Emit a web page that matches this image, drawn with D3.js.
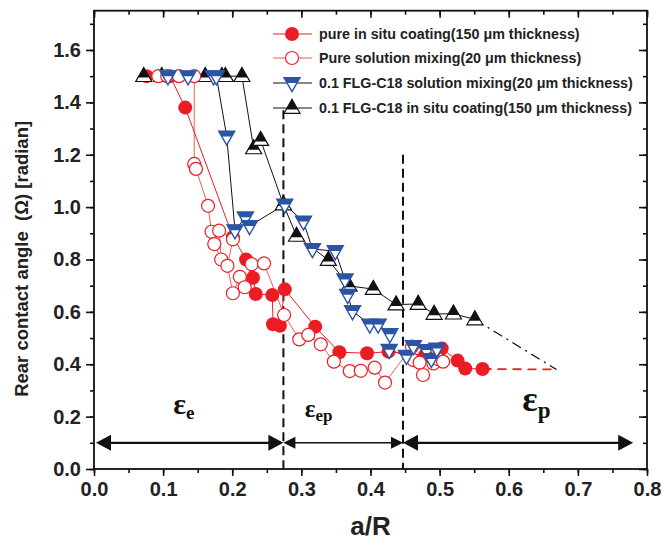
<!DOCTYPE html>
<html><head><meta charset="utf-8">
<script src="https://cdn.jsdelivr.net/npm/d3@7"></script>
<style>body{margin:0;background:#fff}svg{display:block}</style>
</head><body>
<script>
const seriesNames = [
  "pure in situ coating(150 \u03bcm thickness)",
  "Pure solution mixing(20 \u03bcm thickness)",
  "0.1 FLG-C18 solution mixing(20 \u03bcm thickness)",
  "0.1 FLG-C18 in situ coating(150 \u03bcm thickness)"
];
const pureInSitu = [[0.076,1.50],[0.11,1.50],[0.132,1.38],[0.201,0.886],[0.220,0.80],[0.23,0.73],[0.234,0.668],[0.258,0.664],[0.259,0.553],[0.269,0.547],[0.276,0.686],[0.32,0.543],[0.355,0.446],[0.395,0.442],[0.426,0.448],[0.479,0.435],[0.503,0.46],[0.526,0.414],[0.537,0.384],[0.562,0.382]];
const pureInSituExt = [[0.562,0.382],[0.669,0.38]];
const pureSolution = [[0.093,1.50],[0.106,1.50],[0.123,1.50],[0.145,1.50],[0.145,1.165],[0.1475,1.146],[0.165,1.005],[0.170,0.906],[0.174,0.859],[0.184,0.80],[0.181,0.91],[0.201,0.877],[0.193,0.776],[0.201,0.671],[0.211,0.734],[0.218,0.694],[0.228,0.782],[0.246,0.785],[0.275,0.588],[0.297,0.495],[0.31,0.512],[0.328,0.476],[0.347,0.41],[0.37,0.374],[0.386,0.375],[0.406,0.387],[0.421,0.33],[0.46,0.467],[0.462,0.416],[0.471,0.406],[0.476,0.359],[0.491,0.403],[0.498,0.419],[0.505,0.41]];
const flgSolution = [[0.107,1.50],[0.136,1.50],[0.173,1.50],[0.177,1.50],[0.192,1.27],[0.204,0.912],[0.219,0.961],[0.225,0.928],[0.276,1.01],[0.303,0.945],[0.316,0.84],[0.349,0.832],[0.363,0.724],[0.367,0.665],[0.374,0.603],[0.399,0.552],[0.411,0.552],[0.428,0.515],[0.427,0.455],[0.452,0.432],[0.462,0.47],[0.481,0.454],[0.488,0.42],[0.496,0.46]];
const flgInSitu = [[0.072,1.50],[0.098,1.50],[0.161,1.50],[0.185,1.50],[0.19,1.50],[0.214,1.50],[0.231,1.224],[0.241,1.256],[0.274,1.01],[0.293,0.89],[0.339,0.798],[0.369,0.699],[0.404,0.687],[0.437,0.628],[0.469,0.63],[0.492,0.592],[0.52,0.593],[0.551,0.571]];
const flgInSituExt = [[0.551,0.571],[0.669,0.38]];
const xTicks = [0,0.1,0.2,0.3,0.4,0.5,0.6,0.7,0.8];
const yTicks = [0,0.2,0.4,0.6,0.8,1.0,1.2,1.4,1.6];
const regionBounds = [0.0, 0.274, 0.447, 0.78];
const boundaryTops = [1.37, 1.20];
const regionLabels = [["\u03b5","e"],["\u03b5","ep"],["\u03b5","p"]];

const W=662,H=549;
const svg=d3.select("body").append("svg").attr("width",W).attr("height",H);
const L=94,R=647,T=10.7,B=469;
const x=d3.scaleLinear().domain([0,0.8]).range([L,R]);
const y=d3.scaleLinear().domain([0,1.75]).range([B,T]);
const RED="#ec1c24", RED2="#f05a5a", BLUE="#2b54a4";

svg.append("rect").attr("x",L).attr("y",T).attr("width",R-L).attr("height",B-T).attr("fill","none").attr("stroke","#111").attr("stroke-width",1.8);
const fmt=d3.format(".1f");
const xMinor=d3.range(0,0.801,0.05);
const yMinor=d3.range(0,1.751,0.1);
const ax=svg.append("g").attr("transform",`translate(0,${B})`).call(d3.axisBottom(x).tickValues(xTicks).tickFormat(fmt).tickSize(7).tickPadding(6));
const axm=svg.append("g").attr("transform",`translate(0,${B})`).call(d3.axisBottom(x).tickValues(xMinor).tickFormat("").tickSize(4));
const axt=svg.append("g").attr("transform",`translate(0,${T})`).call(d3.axisBottom(x).tickValues(xTicks).tickFormat("").tickSize(7));
const axtm=svg.append("g").attr("transform",`translate(0,${T})`).call(d3.axisBottom(x).tickValues(xMinor).tickFormat("").tickSize(4));
const ay=svg.append("g").attr("transform",`translate(${L},0)`).call(d3.axisLeft(y).tickValues(yTicks).tickFormat(fmt).tickSize(8).tickPadding(5));
const aym=svg.append("g").attr("transform",`translate(${L},0)`).call(d3.axisLeft(y).tickValues(yMinor).tickFormat("").tickSize(4));
const ayr=svg.append("g").attr("transform",`translate(${R},0)`).call(d3.axisLeft(y).tickValues(yTicks).tickFormat("").tickSize(8));
const ayrm=svg.append("g").attr("transform",`translate(${R},0)`).call(d3.axisLeft(y).tickValues(yMinor).tickFormat("").tickSize(4));
[ax,axm,axt,axtm,ay,aym,ayr,ayrm].forEach(g=>{g.select(".domain").remove();g.selectAll("line").attr("stroke","#111").attr("stroke-width",1.6);});
[ax,ay].forEach(g=>g.selectAll("text").attr("font-family","Liberation Sans, Arial, sans-serif").attr("font-weight","bold").attr("font-size",20).attr("fill","#222"));

svg.append("text").attr("x",(L+R)/2).attr("y",535).attr("text-anchor","middle").attr("font-family","Liberation Sans, Arial, sans-serif").attr("font-weight","bold").attr("font-size",26).attr("fill","#222").text("a/R");
svg.append("text").attr("transform",`translate(28,${(T+B)/2+19}) rotate(-90)`).attr("text-anchor","middle").attr("font-family","Liberation Sans, Arial, sans-serif").attr("font-weight","bold").attr("font-size",18.5).attr("fill","#222").text("Rear contact angle \u00a0(\u03a9) [radian]");

regionBounds.slice(1,3).forEach((b,i)=>{
  svg.append("line").attr("x1",x(b)).attr("x2",x(b)).attr("y1",y(boundaryTops[i])).attr("y2",B).attr("stroke","#111").attr("stroke-width",2).attr("stroke-dasharray","9,5");
});

function arrowHead(xTip,yv,dir,len,hw){
  const yy=y(yv);
  svg.append("path").attr("d",`M${xTip},${yy} L${xTip-dir*len},${yy-hw} L${xTip-dir*len},${yy+hw} Z`).attr("fill","#111");
}
const arrowY=0.1;
[[0,1,2.2,15,8],[1,2,1.4,12,6],[2,3,2.2,15,8]].forEach(([a,b,sw,len,hw])=>{
  const x1=Math.max(x(regionBounds[a]),L+2), x2=x(regionBounds[b]);
  svg.append("line").attr("x1",x1+len-2).attr("x2",x2-len+2).attr("y1",y(arrowY)).attr("y2",y(arrowY)).attr("stroke","#111").attr("stroke-width",sw);
  arrowHead(x1,arrowY,-1,len,hw);
  arrowHead(x2,arrowY,1,len,hw);
});
const labelPos=[[0.13,0.21,30,19],[0.325,0.2,25,17],[0.64,0.22,36,23]];
regionLabels.forEach((lab,i)=>{
  const [cx,cy,fs,ss]=labelPos[i];
  const t=svg.append("text").attr("x",x(cx)).attr("y",y(cy)).attr("text-anchor","middle").attr("font-family","Liberation Serif, Times New Roman, serif").attr("font-weight","bold").attr("fill","#111").attr("font-size",fs);
  t.append("tspan").text(lab[0]);
  t.append("tspan").attr("font-size",ss).attr("dy",fs*0.18).text(lab[1]);
});

const line=d3.line().x(d=>x(d[0])).y(d=>y(d[1]));
svg.append("path").datum(pureInSituExt).attr("d",line).attr("fill","none").attr("stroke",RED).attr("stroke-width",1.8).attr("stroke-dasharray","9,6");
svg.append("path").datum(flgInSituExt).attr("d",line).attr("fill","none").attr("stroke","#111").attr("stroke-width",1.3).attr("stroke-dasharray","10,5,2,5");
svg.append("path").datum(flgInSitu).attr("d",line).attr("fill","none").attr("stroke","#111").attr("stroke-width",1);
svg.append("path").datum(flgSolution).attr("d",line).attr("fill","none").attr("stroke","#111").attr("stroke-width",1);
svg.append("path").datum(pureSolution).attr("d",line).attr("fill","none").attr("stroke",RED2).attr("stroke-width",1);
svg.append("path").datum(pureInSitu).attr("d",line).attr("fill","none").attr("stroke",RED).attr("stroke-width",1);

function triUp(g,cx,cy){
  const w=8,h=14, top=cy-h*0.62, bot=cy+h*0.38;
  g.append("path").attr("d",`M${cx},${top} L${cx+w},${bot} L${cx-w},${bot} Z`).attr("fill","#fff").attr("stroke","#111").attr("stroke-width",1.2);
  const fy=top+h*0.72, fw=w*0.72;
  g.append("path").attr("d",`M${cx},${top} L${cx+fw},${fy} L${cx-fw},${fy} Z`).attr("fill","#111");
}
function triDown(g,cx,cy){
  const w=8,h=14, top=cy-h*0.38, bot=cy+h*0.62;
  g.append("path").attr("d",`M${cx-w},${top} L${cx+w},${top} L${cx},${bot} Z`).attr("fill","#fff").attr("stroke",BLUE).attr("stroke-width",1.4);
  const fy=top+h*0.38, fw=w*(1-0.38);
  g.append("path").attr("d",`M${cx-w},${top} L${cx+w},${top} L${cx+fw},${fy} L${cx-fw},${fy} Z`).attr("fill",BLUE);
}
function circFilled(g,cx,cy){g.append("circle").attr("cx",cx).attr("cy",cy).attr("r",7).attr("fill",RED);}
function circOpen(g,cx,cy){g.append("circle").attr("cx",cx).attr("cy",cy).attr("r",6.5).attr("fill","#fff").attr("stroke",RED).attr("stroke-width",1.2);}

const gm=svg.append("g");
pureInSitu.forEach(d=>circFilled(gm,x(d[0]),y(d[1])));
flgInSitu.forEach(d=>triUp(gm,x(d[0]),y(d[1])));
pureSolution.forEach(d=>circOpen(gm,x(d[0]),y(d[1])));
flgSolution.forEach(d=>triDown(gm,x(d[0]),y(d[1])));

const lg=svg.append("g");
const legY=[34,58,83,108];
const legFns=[circFilled,circOpen,triDown,triUp];
const legCols=[RED,RED2,"#111","#111"];
seriesNames.forEach((n,i)=>{
  const yy=legY[i];
  lg.append("line").attr("x1",273).attr("x2",312).attr("y1",yy).attr("y2",yy).attr("stroke",legCols[i]).attr("stroke-width",1);
  legFns[i](lg,292,yy);
  lg.append("text").attr("x",319).attr("y",yy+5).attr("font-family","Liberation Sans, Arial, sans-serif").attr("font-weight","bold").attr("font-size",14.3).attr("fill","#222").text(n);
});
</script>
</body></html>
